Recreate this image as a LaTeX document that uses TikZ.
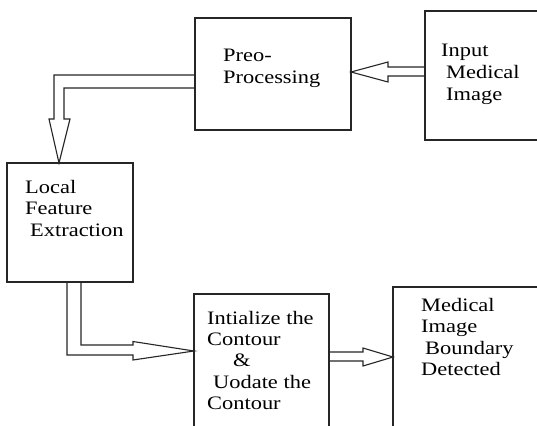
\documentclass[tikz,border=0pt]{standalone}
\usepackage{fontspec}
\setmainfont[FakeStretch=1.18]{Liberation Serif}
\begin{document}
\begin{tikzpicture}[x=1pt,y=-1pt,
  box/.style={draw=black!85, line width=1.5pt, outer sep=0pt, inner sep=0pt},
  blk/.style={draw=black!85, line width=1.1pt, line join=miter},
  lbl/.style={anchor=base west, inner sep=0pt, font=\fontsize{19}{21}\selectfont, text=black}]
\clip (0,0) rectangle (537,425);
\fill[white] (0,0) rectangle (537,425);

% process boxes (the two at the right run past the edge, the lower ones past the bottom)
\node[box, minimum width=156pt, minimum height=112pt] (pre) at (273,74) {};
\node[box, minimum width=120pt, minimum height=129pt] (in)  at (485,75.5) {};
\node[box, minimum width=126pt, minimum height=119pt] (loc) at (70,222.5) {};
\node[box, minimum width=135pt, minimum height=138pt] (ini) at (261.5,363) {};
\node[box, minimum width=152pt, minimum height=145pt] (det) at (469,359.5) {};

% outlined block arrows
\draw[blk] (in.west |- 0,67) -- (388,67) -- (388,62) -- (pre.east |- 0,72)
  -- (388,82) -- (388,76) -- (in.west |- 0,76);
\draw[blk] (pre.west |- 0,75) -- (54,75) -- (54,119) -- (49,119) -- (loc.north -| 59,0)
  -- (70,119) -- (64,119) -- (64,88) -- (pre.west |- 0,88);
\draw[blk] (loc.south -| 67,0) -- (67,355) -- (133,355) -- (133,360) -- (ini.west |- 0,351)
  -- (133,341.5) -- (133,345) -- (81,345) -- (loc.south -| 81,0);
\draw[blk] (ini.east |- 0,352) -- (363,352) -- (363,348) -- (det.west |- 0,357)
  -- (363,366) -- (363,361) -- (ini.east |- 0,361);

% labels
\node[lbl] (p1) at (223,62) {Preo-};
\node[lbl] (p2) at (223,84) {Processing};
\node[lbl] (i1) at (441,57) {Input};
\node[lbl] (i2) at (446,79) {Medical};
\node[lbl] (i3) at (446,100) {Image};
\node[lbl] (l1) at (25,193) {Local};
\node[lbl] (l2) at (25,214) {Feature};
\node[lbl] (l3) at (30,236) {Extraction};
\node[lbl] (c1) at (207,324) {Intialize the};
\node[lbl] (c2) at (207,345) {Contour};
\node[lbl] (c3) at (233,366) {\&};
\node[lbl] (c4) at (213,388) {Uodate the};
\node[lbl] (c5) at (207,409) {Contour};
\node[lbl] (d1) at (421,311) {Medical};
\node[lbl] (d2) at (421,332) {Image};
\node[lbl] (d3) at (425,354) {Boundary};
\node[lbl] (d4) at (421,375) {Detected};
\end{tikzpicture}
\end{document}
